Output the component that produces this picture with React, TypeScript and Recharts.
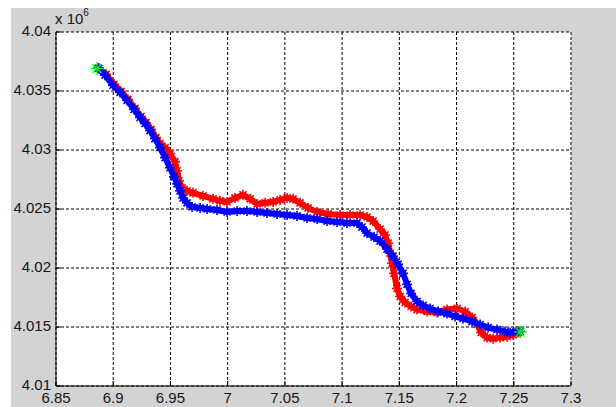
import React from "react";
import { CartesianGrid, Scatter, ScatterChart, XAxis, YAxis } from "recharts";

const xTicks = [6.85, 6.9, 6.95, 7, 7.05, 7.1, 7.15, 7.2, 7.25, 7.3];
const yTicks = [4.01, 4.015, 4.02, 4.025, 4.03, 4.035, 4.04];

// values in units of 10^6
const blueX = [
  6.8867, 6.8928, 6.8998, 6.9059, 6.9121, 6.9182, 6.9234, 6.9278, 6.9322, 6.9365,
  6.9409, 6.9453, 6.9496, 6.9531, 6.9558, 6.9584, 6.961, 6.9645, 6.9689, 6.9759,
  6.982, 6.9907, 6.9995, 7.0082, 7.0169, 7.0257, 7.0344, 7.0432, 7.0519, 7.0606,
  7.0694, 7.0781, 7.0869, 7.0956, 7.1043, 7.1131, 7.1174, 7.1218, 7.1279, 7.1332,
  7.1393, 7.1445, 7.1489, 7.1533, 7.1568, 7.1603, 7.1655, 7.1708, 7.1769, 7.1839,
  7.1917, 7.1987, 7.2057, 7.2136, 7.2206, 7.2276, 7.2354, 7.2424, 7.2468, 7.252,
  7.2555
];
const blueY = [
  4.03693, 4.03634, 4.03548, 4.03489, 4.03421, 4.03344, 4.03276, 4.03225, 4.03165, 4.03097,
  4.0302, 4.02935, 4.0285, 4.02773, 4.02713, 4.02654, 4.02594, 4.02552, 4.02518, 4.02509,
  4.025, 4.02492, 4.02475, 4.02483, 4.02483, 4.02475, 4.02466, 4.02458, 4.02449, 4.02441,
  4.02424, 4.02415, 4.02398, 4.0239, 4.02381, 4.02381, 4.02347, 4.02296, 4.02262, 4.02228,
  4.0216, 4.021, 4.02032, 4.01955, 4.01861, 4.01785, 4.01717, 4.01683, 4.01657, 4.01631,
  4.01614, 4.01589, 4.01572, 4.01546, 4.01521, 4.01495, 4.01478, 4.01461, 4.01453, 4.01461,
  4.01461
];

const redX = [
  6.8876, 6.8937, 6.9007, 6.9068, 6.9129, 6.919, 6.9243, 6.9287, 6.933, 6.9374,
  6.9409, 6.9453, 6.9496, 6.954, 6.9558, 6.9575, 6.9601, 6.9645, 6.9697, 6.9785,
  6.9872, 6.9933, 6.9995, 7.0064, 7.0134, 7.0196, 7.0257, 7.0327, 7.0397, 7.0458,
  7.0519, 7.0571, 7.0633, 7.0702, 7.0781, 7.0877, 7.0982, 7.107, 7.1157, 7.1218,
  7.1271, 7.1332, 7.1375, 7.1402, 7.1419, 7.1437, 7.1454, 7.148, 7.1507, 7.155,
  7.1603, 7.1655, 7.1743, 7.183, 7.1917, 7.2005, 7.2075, 7.2136, 7.218, 7.2215,
  7.2267, 7.2319, 7.2381, 7.2442, 7.2494, 7.2538
];
const redY = [
  4.03693, 4.03642, 4.03557, 4.03497, 4.03429, 4.03353, 4.03284, 4.03233, 4.03174, 4.03105,
  4.03054, 4.0302, 4.02969, 4.02901, 4.02824, 4.02739, 4.02679, 4.02654, 4.02637, 4.02611,
  4.02586, 4.02569, 4.0256, 4.02594, 4.0262, 4.02586, 4.02543, 4.02552, 4.0256, 4.02577,
  4.02594, 4.02586, 4.02552, 4.02509, 4.02475, 4.02458, 4.02449, 4.02449, 4.02449, 4.02432,
  4.02398, 4.0233, 4.02279, 4.02211, 4.02126, 4.0204, 4.01955, 4.01827, 4.01759, 4.01708,
  4.01674, 4.01648, 4.01631, 4.01623, 4.01648, 4.01657, 4.01631, 4.0158, 4.01521, 4.01453,
  4.0141, 4.01401, 4.0141, 4.01418, 4.01435, 4.01453
];

const endX = [6.8858, 7.2556];
const endY = [4.0369, 4.01457];

const toPoints = (xs: number[], ys: number[]) => xs.map((x, i) => ({ x, y: ys[i] }));

const redData = toPoints(redX, redY);
const blueData = toPoints(blueX, blueY);
const endData = toPoints(endX, endY);

const fmt = (v: number) => String(Number(v.toFixed(3)));

function asterisk(color: string, r: number, w: number) {
  return (props: any) => {
    const { cx, cy } = props;
    const d = r * 0.707;
    return (
      <g stroke={color} strokeWidth={w}>
        <line x1={cx - r} y1={cy} x2={cx + r} y2={cy} />
        <line x1={cx} y1={cy - r} x2={cx} y2={cy + r} />
        <line x1={cx - d} y1={cy - d} x2={cx + d} y2={cy + d} />
        <line x1={cx - d} y1={cy + d} x2={cx + d} y2={cy - d} />
      </g>
    );
  };
}

const labelStyle = { fontSize: 15, fill: "#151520", fontFamily: "Liberation Sans, Arial, sans-serif" };

function YTick(props: any) {
  const { x, y, payload } = props;
  return (
    <g>
      <line x1={x + 5} y1={y} x2={x + 10} y2={y} stroke="#000" strokeWidth={1} />
      <text x={x} y={y} dy={4} textAnchor="end" {...labelStyle}>
        {fmt(payload.value)}
      </text>
    </g>
  );
}

function XTick(props: any) {
  const { x, y, payload } = props;
  return (
    <g>
      <line x1={x} y1={y - 4} x2={x} y2={y - 9} stroke="#000" strokeWidth={1} />
      <text x={x} y={y} dy={13} textAnchor="middle" {...labelStyle}>
        {fmt(payload.value)}
      </text>
    </g>
  );
}

export default function App() {
  return (
    <div style={{ position: "absolute", left: 0, top: 0, width: 616, height: 407, background: "#fff", overflow: "hidden" }}>
      <div style={{ position: "absolute", left: 11, top: 8, width: 605, height: 399, background: "#d3d3d3" }} />
      <div
        style={{
          position: "absolute",
          left: 55,
          top: 9,
          fontSize: 15,
          color: "#151520",
          fontFamily: "Liberation Sans, Arial, sans-serif"
        }}
      >
        x 10<sup style={{ fontSize: 10, position: "relative", top: -2 }}>6</sup>
      </div>
      <div style={{ position: "absolute", left: 0, top: 0 }}>
        <ScatterChart width={616} height={407} margin={{ top: 32, right: 45, bottom: 1, left: 11 }}>
          <CartesianGrid
            fill="#fff"
            stroke="#000"
            strokeDasharray="3 2"
            horizontalValues={yTicks}
            verticalValues={xTicks}
          />
          <XAxis
            type="number"
            dataKey="x"
            domain={[6.85, 7.3]}
            ticks={xTicks}
            height={20}
            tickSize={0}
            tickMargin={4}
            tickLine={false}
            axisLine={{ stroke: "#000", strokeWidth: 1 }}
            tick={<XTick />}
            allowDataOverflow
          />
          <YAxis
            type="number"
            dataKey="y"
            domain={[4.01, 4.04]}
            ticks={yTicks}
            width={45}
            tickSize={0}
            tickMargin={5}
            tickLine={false}
            axisLine={{ stroke: "#000", strokeWidth: 1 }}
            tick={<YTick />}
            allowDataOverflow
          />
          <Scatter
            data={redData}
            line={{ stroke: "#ff0000", strokeWidth: 6 }}
            lineType="joint"
            shape={asterisk("#ff0000", 5, 1.6)}
            isAnimationActive={false}
          />
          <Scatter
            data={blueData}
            line={{ stroke: "#0000ff", strokeWidth: 6 }}
            lineType="joint"
            shape={asterisk("#0000ff", 5, 1.6)}
            isAnimationActive={false}
          />
          <Scatter data={endData} shape={asterisk("#00ff00", 6.5, 1.2)} isAnimationActive={false} />
        </ScatterChart>
      </div>
    </div>
  );
}
